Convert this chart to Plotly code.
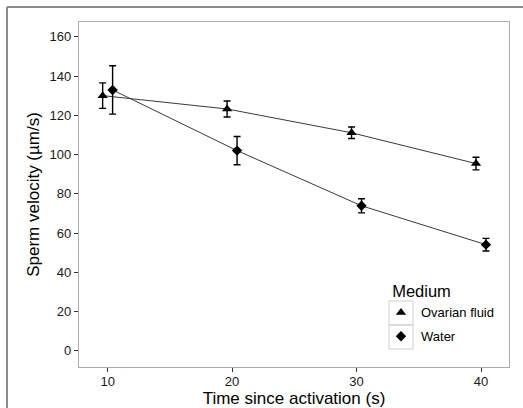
import plotly.graph_objects as go

time = [10, 20, 30, 40]
ovarian_mean = [130.0, 123.2, 111.1, 95.4]
ovarian_se = [6.5, 4.1, 2.9, 3.2]
water_mean = [132.9, 102.0, 73.9, 54.1]
water_se = [12.3, 7.2, 3.6, 3.2]
dodge = 0.4

x_ov = [t - dodge for t in time]
x_wa = [t + dodge for t in time]

FONT = "Liberation Sans, Arial, sans-serif"
W, H = 523, 408
L, R, T, B = 79, 14, 22, 41
pw, ph = W - L - R, H - T - B

def px2paper(px, py):
    return (px - L) / pw, (H - B - py) / ph

fig = go.Figure()
for xs, ys in [(x_ov, ovarian_mean), (x_wa, water_mean)]:
    fig.add_trace(go.Scatter(x=xs, y=ys, mode="lines", showlegend=False,
                             line=dict(color="#3a3a3a", width=1), hoverinfo="skip"))
fig.add_trace(go.Scatter(x=x_ov, y=ovarian_mean, mode="markers", name="Ovarian fluid",
                         legendgroup="ov",
                         marker=dict(symbol="triangle-up", size=9, color="black"),
                         error_y=dict(type="data", array=ovarian_se, color="black",
                                      thickness=1.4, width=3.5)))
fig.add_trace(go.Scatter(x=x_wa, y=water_mean, mode="markers", name="Water",
                         legendgroup="wa",
                         marker=dict(symbol="diamond", size=8, color="black"),
                         error_y=dict(type="data", array=water_se, color="black",
                                      thickness=1.4, width=3.5)))

axis_common = dict(showgrid=False, zeroline=False, showline=True, mirror=True,
                   linecolor="#ababab", linewidth=1.2, ticks="outside", ticklen=4,
                   tickwidth=1.2, tickcolor="#333333", automargin=False,
                   tickfont=dict(family=FONT, size=13, color="#1a1a1a"))
fig.update_xaxes(range=[7.7, 42.25], tickvals=time, **axis_common, ticklabelstandoff=-2,
                 title=dict(text="Time since activation (s)",
                            font=dict(family=FONT, size=17, color="black"), standoff=0))
fig.update_yaxes(range=[-8.2, 167.5], tickvals=[0, 20, 40, 60, 80, 100, 120, 140, 160],
                 **axis_common,
                 title=dict(text="Sperm velocity (µm/s)",
                            font=dict(family=FONT, size=17, color="black"), standoff=5))

shapes = []
fx0, fy0 = px2paper(7, 7)
fx1, fy1 = px2paper(523, 408)
frame = dict(color="#8c8c8c", width=2)
shapes.append(dict(type="line", xref="paper", yref="paper", x0=fx0, y0=fy0, x1=fx1, y1=fy0,
                   line=frame, layer="below"))
shapes.append(dict(type="line", xref="paper", yref="paper", x0=fx0, y0=fy0, x1=fx0, y1=fy1,
                   line=frame, layer="below"))
for top in (301, 325):
    a0, b0 = px2paper(389, top)
    a1, b1 = px2paper(413, top + 24)
    shapes.append(dict(type="rect", xref="paper", yref="paper", x0=a0, y0=b1, x1=a1, y1=b0,
                       line=dict(color="#cfcfcf", width=1), layer="below"))

lx, ly = px2paper(381, 276)
fig.update_layout(
    width=W, height=H, margin=dict(l=L, r=R, t=T, b=B, autoexpand=False),
    paper_bgcolor="white", plot_bgcolor="white",
    font=dict(family=FONT, color="black"),
    shapes=shapes,
    legend=dict(x=lx, y=ly, xanchor="left", yanchor="top", bgcolor="rgba(0,0,0,0)",
                title=dict(text="\u00a0\u00a0Medium", font=dict(family=FONT, size=16.5)),
                font=dict(family=FONT, size=13), tracegroupgap=4),
)
fig.write_html("out.html", config={"displayModeBar": False},
               post_script="document.body.style.margin='0';document.body.style.overflow='hidden';")
